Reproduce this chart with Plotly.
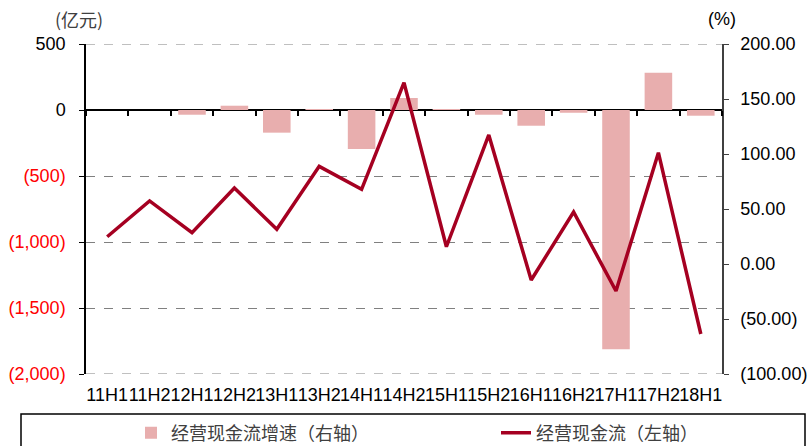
import plotly.graph_objects as go

categories = ["11H1", "11H2", "12H1", "12H2", "13H1", "13H2", "14H1", "14H2",
              "15H1", "15H2", "16H1", "16H2", "17H1", "17H2", "18H1"]
# 经营现金流（左轴，亿元）
cash_flow = [-960, -689, -929, -591, -904, -427, -601, 207,
             -1036, -189, -1288, -773, -1371, -323, -1697]
# 经营现金流增速（右轴，%）
growth = [None, None, 135.7, 143.9, 119.4, 140.9, 104.5, 150.9,
          140.8, 135.7, 125.7, 137.5, -77.6, 173.9, 134.8]

left_ticks = [500, 0, -500, -1000, -1500, -2000]
right_ticks = [200, 150, 100, 50, 0, -50, -100]
left_range = [-2000, 500]
right_range = [-100, 200]

# bars start at the category axis (left axis 0) expressed in right-axis units
baseline = right_range[1] - (left_range[1] - 0) / (left_range[1] - left_range[0]) * (right_range[1] - right_range[0])
zero_pos = (0 - left_range[0]) / (left_range[1] - left_range[0])


def fmt_left(v):
    if v < 0:
        return f"<span style='color:#FF0000'>({abs(v):,})</span>"
    return f"{v:,}"


def fmt_right(v):
    if v < 0:
        return f"({abs(v):.2f})"
    return f"{v:.2f}"


bar_heights = [None if g is None else g - baseline for g in growth]

fig = go.Figure()
fig.add_trace(go.Bar(
    x=categories, y=bar_heights, base=baseline,
    name="经营现金流增速（右轴）", marker=dict(color="#E8AEAE", line=dict(width=0)),
    width=0.65, yaxis="y", xaxis="x", legend="legend",
))
fig.add_trace(go.Scatter(
    x=categories, y=cash_flow, mode="lines", name="经营现金流（左轴）",
    line=dict(color="#A50021", width=3.5), yaxis="y2", xaxis="x2", legend="legend2",
))

font_main = "Arial, 'Liberation Sans', sans-serif"
legend_font = dict(family="'Noto Sans CJK SC', sans-serif", size=18, color="#404040")
grid_shapes = [dict(type="line", xref="paper", yref="y2", x0=0, x1=1, y0=v, y1=v,
                    line=dict(color="#808080", width=1, dash="dash"), layer="below")
               for v in (left_range[0], left_range[1])]
x_range = [-0.5, len(categories) - 0.5]

fig.update_layout(
    width=808, height=446,
    margin=dict(l=86, r=86, t=44, b=72, autoexpand=False),
    plot_bgcolor="white", paper_bgcolor="white",
    font=dict(family=font_main, size=18, color="black"),
    showlegend=True,
    legend=dict(orientation="h", xref="container", yref="container",
                x=131 / 808, xanchor="left", y=1 - 433 / 446, yanchor="middle",
                font=legend_font, bgcolor="rgba(0,0,0,0)"),
    legend2=dict(orientation="h", xref="container", yref="container",
                 x=496 / 808, xanchor="left", y=1 - 433 / 446, yanchor="middle",
                 font=legend_font, bgcolor="rgba(0,0,0,0)"),
    xaxis=dict(type="category", categoryorder="array", categoryarray=categories,
               showline=False, ticks="", showgrid=False, zeroline=False, automargin=False,
               tickangle=0, tickfont=dict(size=18), ticklabelstandoff=8, range=x_range),
    xaxis2=dict(type="category", categoryorder="array", categoryarray=categories,
                overlaying="x", anchor="free", position=zero_pos, range=x_range,
                tickson="boundaries", ticks="outside", ticklen=5, tickwidth=1.5,
                tickcolor="black", showticklabels=False,
                showline=False, showgrid=False, zeroline=False, automargin=False),
    yaxis=dict(side="right", range=right_range, tickvals=right_ticks,
               ticktext=[fmt_right(v) for v in right_ticks],
               showline=True, linecolor="#404040", linewidth=1.5,
               ticks="outside", ticklen=5, tickcolor="#404040", automargin=False,
               ticklabelstandoff=8,
               showgrid=False, zeroline=False, tickfont=dict(size=18)),
    yaxis2=dict(overlaying="y", anchor="x", side="left", range=left_range, tickvals=left_ticks,
                ticktext=[fmt_left(v) for v in left_ticks],
                showline=True, linecolor="black", linewidth=1.5,
                ticks="outside", ticklen=5, tickcolor="black", automargin=False,
                ticklabelstandoff=10,
                showgrid=True, gridcolor="#808080", griddash="dash", gridwidth=1,
                zeroline=True, zerolinecolor="black", zerolinewidth=1.5,
                tickfont=dict(size=18)),
    shapes=grid_shapes + [dict(type="rect", xref="paper", yref="paper",
                 x0=(21 - 86) / 636, x1=(805 - 86) / 636,
                 y0=(374 - 414) / 330, y1=(374 - 470) / 330,
                 line=dict(color="black", width=1.5), fillcolor="rgba(0,0,0,0)")],
    annotations=[
        dict(text="(亿元)", xref="paper", yref="paper", x=(79 - 86) / 636, y=(374 - 19) / 330,
             showarrow=False, xanchor="center", yanchor="middle",
             font=dict(family="'Noto Sans CJK SC', sans-serif", size=18, color="#404040")),
        dict(text="(%)", xref="paper", yref="paper", x=(722 - 86) / 636, y=(374 - 19) / 330,
             showarrow=False, xanchor="center", yanchor="middle",
             font=dict(family=font_main, size=18, color="black")),
    ],
)

fig.write_html("out.html", config={"displayModeBar": False},
               post_script="document.body.style.margin='0';document.body.style.overflow='hidden';")
